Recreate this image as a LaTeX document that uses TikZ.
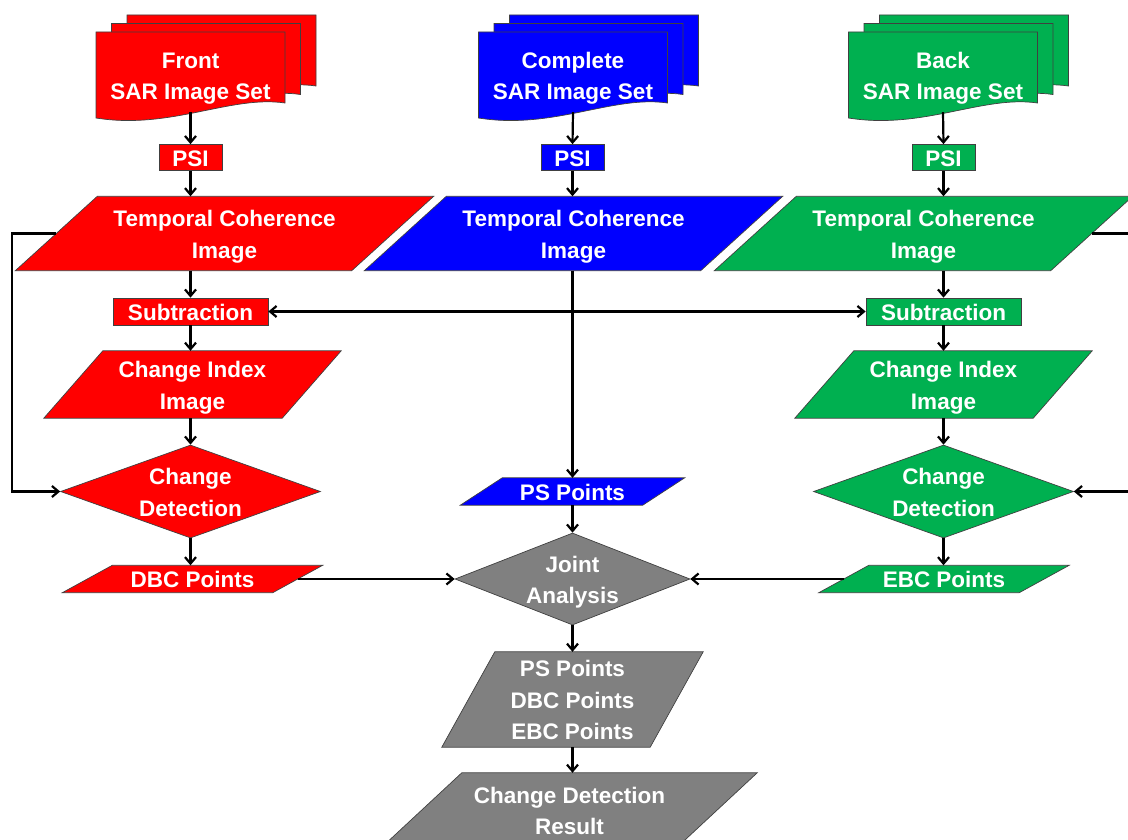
\documentclass[tikz,border=0pt]{standalone}
\usepackage{fontspec}
\setmainfont{Liberation Sans}
\usetikzlibrary{positioning,shapes.geometric,arrows.meta,backgrounds}
\definecolor{setRed}{HTML}{FF0000}
\definecolor{setBlue}{HTML}{0000FF}
\definecolor{setGreen}{HTML}{00B050}
\definecolor{setGray}{HTML}{808080}

% stack of three image sheets behind a coordinate
\newcommand{\sarstack}[2]{%
  \foreach \k in {2,1,0}{
    \filldraw[sheet=#2, shift={(#1)}, shift={(15.5*\k,-8.5*\k)}]
      (-94.5,-43) -- (94.5,-43) -- (94.5,28)
      .. controls (40,20) and (-20,55) .. (-94.5,43) -- cycle;
  }}
% parallelogram behind a node: node, colour, slant
\newcommand{\parafill}[3]{%
  \filldraw[sheet=#2] ([xshift=#3/2]#1.north west) -- ([xshift=#3/2]#1.north east)
    -- ([xshift=-#3/2]#1.south east) -- ([xshift=-#3/2]#1.south west) -- cycle;}

\begin{document}
\begin{tikzpicture}[
  x=1pt, y=-1pt,
  txt/.style={text=white, font=\fontsize{22.5}{31.5}\selectfont\bfseries,
    align=center, inner sep=0pt,
    execute at begin node={\rule{0pt}{20.5pt}},
    execute at end node={\rule[-3pt]{0pt}{3pt}}},
  lines/.style={text height=52.5pt, text depth=3.3pt},
  threelines/.style={text height=84pt, text depth=3.3pt},
  base/.style={txt, draw=black!75, line width=0.7pt, fill=#1},
  sheet/.style={draw=black!75, line width=0.7pt, fill=#1},
  settext/.style={txt, lines, minimum width=189pt, minimum height=74pt},
  smallbox/.style={base=#1, minimum height=26pt},
  para/.style={txt},
  decide/.style={base=#1, lines, diamond, aspect=2.5, inner sep=-5pt},
  arr/.style={-{Straight Barb[length=6.5pt,width=11pt]}, line width=2.2pt, black},
]
\useasboundingbox (0,0) rectangle (1128,840);

% Image sets
\coordinate (sarR) at (190.5,75);
\coordinate (sarB) at (573,75);
\coordinate (sarG) at (943,75);
\sarstack{sarR}{setRed}
\sarstack{sarB}{setBlue}
\sarstack{sarG}{setGreen}
\node[settext] (frontset) at (sarR) {Front\\SAR Image Set};
\node[settext] (compset) at (sarB) {Complete\\SAR Image Set};
\node[settext] (backset) at (sarG) {Back\\SAR Image Set};

% PSI
\node[smallbox=setRed, minimum width=63pt] (psiR) at (190.5,157.5) {PSI};
\node[smallbox=setBlue, minimum width=63pt] (psiB) at (572.5,157.5) {PSI};
\node[smallbox=setGreen, minimum width=63pt] (psiG) at (943.5,157.5) {PSI};

% Temporal coherence
\node[para, lines, minimum width=336pt, minimum height=74pt] (tciR) at (224.5,233.5) {Temporal Coherence\\Image};
\node[para, lines, minimum width=336pt, minimum height=74pt] (tciB) at (573.5,233.5) {Temporal Coherence\\Image};
\node[para, lines, minimum width=336pt, minimum height=74pt] (tciG) at (923.5,233.5) {Temporal Coherence\\Image};

% Subtraction and change index
\node[smallbox=setRed, minimum width=155pt, minimum height=27pt] (subR) at (190.5,311.5) {Subtraction};
\node[smallbox=setGreen, minimum width=155pt, minimum height=27pt] (subG) at (943.5,311.5) {Subtraction};
\node[para, lines, minimum width=238pt, minimum height=67pt] (ciiR) at (192.5,384.5) {Change Index\\Image};
\node[para, lines, minimum width=238pt, minimum height=67pt] (ciiG) at (943.5,384.5) {Change Index\\Image};

% Detection
\node[decide=setRed, minimum width=260pt, minimum height=93pt] (cdR) at (190.5,491.5) {Change\\Detection};
\node[decide=setGreen, minimum width=260pt, minimum height=93pt] (cdG) at (943.5,491.5) {Change\\Detection};
\node[para, minimum width=182pt, minimum height=27pt] (psP) at (572.5,491.5) {PS Points};
\node[decide=setGray, minimum width=235pt, minimum height=92pt] (ja) at (572.5,579) {Joint\\Analysis};
\node[para, minimum width=210pt, minimum height=27pt] (dbc) at (192.5,579) {DBC Points};
\node[para, minimum width=200pt, minimum height=27pt] (ebc) at (944,579) {EBC Points};

% Results
\node[para, threelines, minimum width=208pt, minimum height=95pt] (res) at (572.5,699.5) {PS Points\\DBC Points\\EBC Points};
\node[para, lines, minimum width=295pt, minimum height=74pt] (cdr) at (569.5,810) {Change Detection\\Result};

\begin{scope}[on background layer]
  \fill[white] (0,0) rectangle (1128,840);
  \parafill{tciR}{setRed}{82}
  \parafill{tciB}{setBlue}{82}
  \parafill{tciG}{setGreen}{82}
  \parafill{ciiR}{setRed}{59}
  \parafill{ciiG}{setGreen}{59}
  \parafill{psP}{setBlue}{42}
  \parafill{dbc}{setRed}{50}
  \parafill{ebc}{setGreen}{50}
  \parafill{res}{setGray}{53}
  \parafill{cdr}{setGray}{80}
\end{scope}

% Arrows
\draw[arr] (frontset.south) -- (psiR.north);
\draw[arr] (compset.south) -- (psiB.north);
\draw[arr] (backset.south) -- (psiG.north);
\draw[arr] (psiR.south) -- (psiR.south |- tciR.north);
\draw[arr] (psiB.south) -- (psiB.south |- tciB.north);
\draw[arr] (psiG.south) -- (psiG.south |- tciG.north);
\draw[arr] (subR.north |- tciR.south) -- (subR.north);
\draw[arr] (subG.north |- tciG.south) -- (subG.north);
\draw[arr] (psiB.south |- tciB.south) -- (psiB.south |- psP.north);
\coordinate (jn) at (psiB.south |- subR.east);
\draw[arr] (jn) -- (subR.east);
\draw[arr] (jn) -- (subG.west);
\draw[arr] (subR.south) -- (subR.south |- ciiR.north);
\draw[arr] (subG.south) -- (subG.south |- ciiG.north);
\draw[arr] (cdR.north |- ciiR.south) -- (cdR.north);
\draw[arr] (cdG.north |- ciiG.south) -- (cdG.north);
\draw[arr] (cdR.south) -- (cdR.south |- dbc.north);
\draw[arr] (cdG.south) -- (cdG.south |- ebc.north);

% Feedback of temporal coherence into detection
\coordinate (loopL) at (12,0);
\coordinate (loopR) at (1140,0);
\draw[arr] (tciR.west) -| (loopL |- cdR.west) -- (cdR.west);
\draw[arr] (tciG.east) -| (loopR |- cdG.east) -- (cdG.east);

\draw[arr] (psP.south) -- (ja.north);
\draw[arr] (dbc.east) -- (ja.west);
\draw[arr] (ebc.west) -- (ja.east);
\draw[arr] (ja.south) -- (ja.south |- res.north);
\draw[arr] (res.south) -- (res.south |- cdr.north);

\end{tikzpicture}
\end{document}
